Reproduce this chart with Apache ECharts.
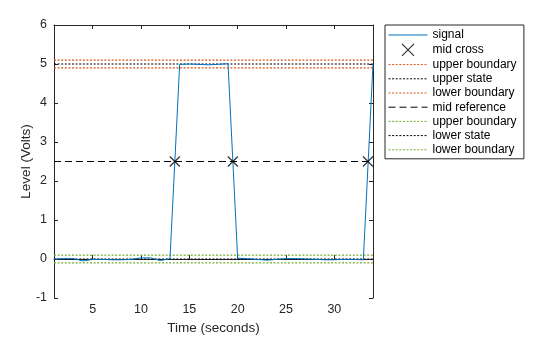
<!DOCTYPE html>
<html><head><meta charset="utf-8">
<script src="https://cdn.jsdelivr.net/npm/echarts@6/dist/echarts.min.js"></script>
<style>html,body{margin:0;padding:0;background:#fff}#c{width:560px;height:337px}</style>
</head><body><div id="c"></div>
<script>
const time = [1,2,3,4,5,6,7,8,9,10,11,12,13,14,15,16,17,18,19,20,21,22,23,24,25,26,27,28,29,30,31,32,33,34];
const signal = [0.00,0.01,0.01,-0.05,-0.01,-0.01,-0.02,-0.02,-0.01,0.03,0.03,-0.04,0.01,
  4.99,5.00,4.99,4.98,4.99,5.01,
  0.02,0.01,-0.01,-0.03,-0.01,0.01,0.01,0.00,-0.01,-0.02,-0.02,-0.01,-0.01,-0.02,5.00];
const crossTimes = [13.5, 19.5, 33.48];
const midRef = 2.5;
const upperState = 5.0, lowerState = 0.0;
const upperBounds = [5.1, 4.9];
const lowerBounds = [0.1, -0.1];
const xTicks = [5,10,15,20,25,30];
const xRange = [1, 34];
const yRange = [-1, 6];

const font = 'Arial, "Liberation Sans", Helvetica, sans-serif';
const axisCol = '#262626';
const blue = '#0072BD', orange = '#D95319', green = '#77AC30';
const dot = [2, 1.6];

function hline(name, y, color, type) {
  return { name, type: 'line', symbol: 'none', silent: true,
    data: [[xRange[0], y], [xRange[1], y]],
    lineStyle: { color, width: 1.1, type }, itemStyle: { color }, z: 2 };
}

const series = [
  { name: 'signal', type: 'line', symbol: 'none', data: time.map((t, i) => [t, signal[i]]),
    lineStyle: { color: blue, width: 1 }, itemStyle: { color: blue }, z: 3 },
  { name: 'mid cross', type: 'scatter', symbol: 'path://M0,0L10,10M10,0L0,10', symbolSize: 10,
    data: crossTimes.map(t => [t, midRef]),
    itemStyle: { color: 'transparent', borderColor: '#000', borderWidth: 1.2 }, z: 5 },
  hline('upper boundary', upperBounds[0], orange, dot),
  hline('upper state', upperState, '#000', dot),
  hline('lower boundary', upperBounds[1], orange, dot),
  hline('mid reference', midRef, '#000', [7, 4]),
  hline('upper boundary ', lowerBounds[0], green, dot),
  hline('lower state', lowerState, '#000', dot),
  hline('lower boundary ', lowerBounds[1], green, dot)
];

const legendData = series.map(s => s.type === 'line'
  ? { name: s.name, itemStyle: { opacity: 0 }, lineStyle: { width: 1 } }
  : { name: s.name, itemStyle: { color: 'transparent', borderColor: '#000', borderWidth: 1.2 } });

const chart = echarts.init(document.getElementById('c'), null, { renderer: 'canvas' });
chart.setOption({
  animation: false,
  backgroundColor: '#fff',
  grid: { left: 54, right: 187, top: 25, bottom: 39, containLabel: false, outerBoundsMode: 'none' },
  xAxis: [{
    type: 'value', min: xRange[0], max: xRange[1],
    name: 'Time (seconds)', nameLocation: 'middle', nameGap: 23, nameMoveOverlap: false,
    nameTextStyle: { color: axisCol, fontSize: 13.5, fontFamily: font },
    axisLine: { show: true, lineStyle: { color: axisCol, width: 1 } },
    axisTick: { show: true, inside: true, length: 4, lineStyle: { color: axisCol }, customValues: xTicks },
    axisLabel: { color: axisCol, fontSize: 12.5, fontFamily: font, margin: 5, customValues: xTicks },
    splitLine: { show: false }
  }, {
    type: 'value', position: 'top', min: xRange[0], max: xRange[1],
    axisLine: { show: true, onZero: false, lineStyle: { color: axisCol, width: 1 } },
    axisTick: { show: true, inside: true, length: 4, lineStyle: { color: axisCol }, customValues: xTicks },
    axisLabel: { show: false }, splitLine: { show: false }
  }],
  yAxis: [{
    type: 'value', min: yRange[0], max: yRange[1], interval: 1,
    name: 'Level (Volts)', nameLocation: 'middle', nameGap: 21, nameRotate: 90, nameMoveOverlap: false,
    nameTextStyle: { color: axisCol, fontSize: 13.5, fontFamily: font },
    axisLine: { show: true, onZero: false, lineStyle: { color: axisCol, width: 1 } },
    axisTick: { show: true, inside: true, length: 4, lineStyle: { color: axisCol } },
    axisLabel: { color: axisCol, fontSize: 12.5, fontFamily: font, margin: 7 },
    splitLine: { show: false }
  }, {
    type: 'value', position: 'right', min: yRange[0], max: yRange[1], interval: 1,
    axisLine: { show: true, onZero: false, lineStyle: { color: axisCol, width: 1 } },
    axisTick: { show: true, inside: true, length: 4, lineStyle: { color: axisCol } },
    axisLabel: { show: false }, splitLine: { show: false }
  }],
  legend: {
    orient: 'vertical', left: 385, top: 25,
    padding: [4, 4, 3, 3], itemGap: 2.2, itemWidth: 39, itemHeight: 12,
    backgroundColor: '#fff', borderColor: axisCol, borderWidth: 1,
    selectedMode: false,
    textStyle: { color: '#000', fontSize: 12, fontFamily: font },
    data: legendData
  },
  series
});
</script></body></html>
